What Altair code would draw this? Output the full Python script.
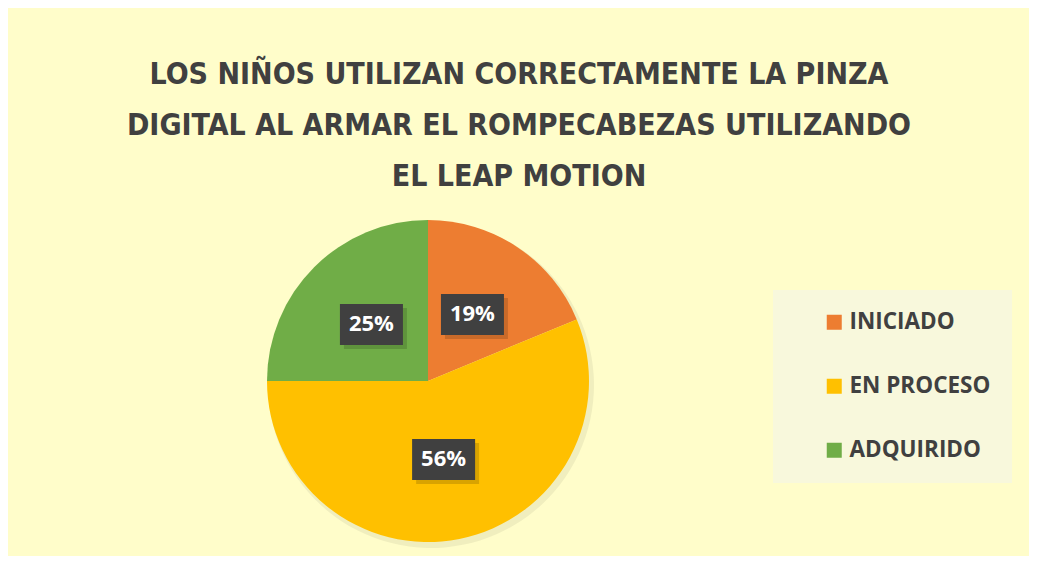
import altair as alt
import pandas as pd

# ---- data ----
CATEGORIES = ["INICIADO", "EN PROCESO", "ADQUIRIDO"]
COUNTS = [3, 9, 4]
LABELS = ["19%", "56%", "25%"]
ORDER = [0, 1, 2]
COLORS = ["#ED7D31", "#FFC000", "#70AD47"]
TITLE_LINES = [
    "LOS NIÑOS UTILIZAN CORRECTAMENTE LA PINZA",
    "DIGITAL AL ARMAR EL ROMPECABEZAS UTILIZANDO",
    "EL LEAP MOTION",
]

df = pd.DataFrame({"category": CATEGORIES, "count": COUNTS, "label": LABELS, "idx": ORDER})

W, H = 1021, 548
CX, CY, R = 420, 373, 161
LR = 80  # label radius

TXT = "#404040"
BG = "#FFFDCA"

base = alt.Chart(df)

shadow = base.mark_arc(outerRadius=R + 2, color="#000000", opacity=0.06, xOffset=3, yOffset=4).encode(
    theta=alt.Theta("count:Q", stack=True),
    order=alt.Order("idx:Q"),
    x=alt.value(CX), y=alt.value(CY),
)

pie = base.mark_arc(outerRadius=R).encode(
    theta=alt.Theta("count:Q", stack=True),
    color=alt.Color(
        "category:N",
        sort=CATEGORIES,
        scale=alt.Scale(domain=CATEGORIES, range=COLORS),
        legend=alt.Legend(
            title=None,
            orient="none",
            legendX=765,
            legendY=282,
            fillColor="#F8F8DC",
            padding=21,
            symbolType="square",
            symbolSize=225,
            symbolStrokeWidth=0,
            symbolOffset=29,
            labelOffset=4,
            labelFont="Open Sans",
            labelFontWeight="bold",
            labelFontSize=22.5,
            labelColor=TXT,
            labelLimit=400,
            labelExpr="datum.label + '\u00a0\u00a0\u00a0\u00a0\u00a0\u00a0\u00a0\u00a0'",
            rowPadding=41,
        ),
    ),
    order=alt.Order("idx:Q"),
    x=alt.value(CX), y=alt.value(CY),
)

pos = (
    base.transform_joinaggregate(total="sum(count)")
    .transform_window(cum="sum(count)", sort=[alt.SortField("idx")])
    .transform_calculate(
        mid="(datum.cum - datum.count/2) / datum.total * 2 * PI",
        px="sin(datum.mid)",
        py="cos(datum.mid)",
    )
)
xenc = alt.X("px:Q", scale=alt.Scale(domain=[-1, 1], range=[CX - LR, CX + LR]), axis=None)
yenc = alt.Y("py:Q", scale=alt.Scale(domain=[-1, 1], range=[CY + LR, CY - LR]), axis=None)

box_shadow = pos.mark_rect(width=63, height=41, color="#000000", opacity=0.15, xOffset=4, yOffset=4).encode(x=xenc, y=yenc)
box = pos.mark_rect(width=63, height=41, color="#404040").encode(x=xenc, y=yenc)
txt = pos.mark_text(font="Open Sans", fontWeight="bold", fontSize=22, color="white", baseline="middle").encode(
    x=xenc, y=yenc, text="label:N"
)

title = alt.Chart(pd.DataFrame({"t": [0]})).mark_text(
    font="DejaVu Sans Condensed, DejaVu Sans, sans-serif",
    fontWeight="bold",
    fontSize=30,
    lineHeight=51,
    color=TXT,
    align="center",
    baseline="middle",
).encode(x=alt.value(511), y=alt.value(67), text=alt.value(TITLE_LINES))

chart = (
    alt.layer(shadow, pie, box_shadow, box, txt, title)
    .properties(
        width=W,
        height=H,
        background=BG,
        padding=0,
        autosize=alt.AutoSizeParams(type="fit", contains="padding"),
    )
    .configure_view(stroke=None)
)

chart.save("out.html", embed_options={"renderer": "svg", "actions": False})
